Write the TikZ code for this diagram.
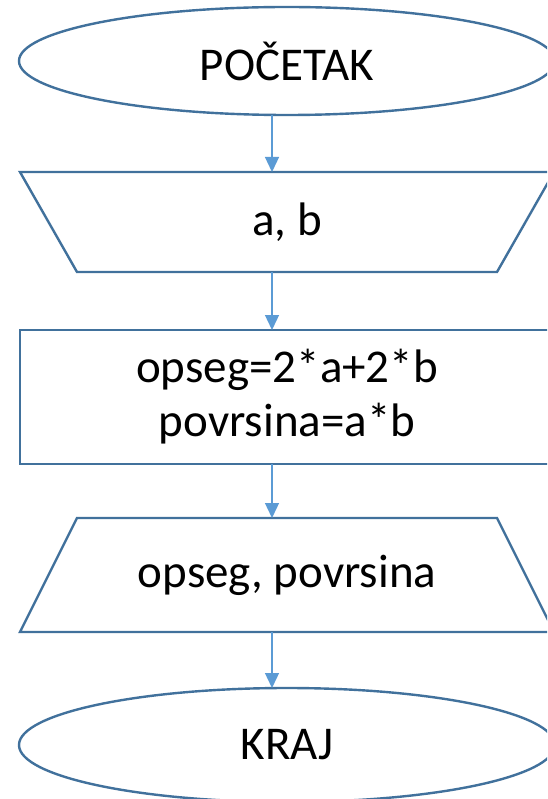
\documentclass[tikz,border=0pt]{standalone}
\usepackage{fontspec}
\setmainfont{Carlito}
\usetikzlibrary{shapes.geometric,arrows.meta}
\definecolor{outl}{HTML}{41719C}
\definecolor{arrc}{HTML}{5B9BD5}
\tikzset{
  txt/.style={font=\fontsize{47}{54}\selectfont, align=center, inner sep=0pt, outer sep=0pt},
  term/.style={txt, ellipse, draw=outl, line width=2.4pt, minimum width=536pt},
  boxshape/.style={txt, rectangle, minimum width=534pt},
  outline/.style={draw=outl, line width=2.4pt, line join=miter},
  arr/.style={draw=arrc, line width=1.3pt, -{Triangle[length=15pt,width=14pt]}}
}
\begin{document}
\begin{tikzpicture}[x=1pt,y=-1pt]
\useasboundingbox (0,0) rectangle (547,799);
\clip (0,0) rectangle (547,799);
\fill[white] (0,0) rectangle (547,799);
\coordinate (ax) at (272,0);
% start
\node[term, minimum height=108pt] (start) at (287,61) {POČETAK};
% input
\node[boxshape, minimum height=100pt] (in1) at (287,222) {a, b};
\draw[outline] (in1.north west) -- (in1.north east) -- ([xshift=-57pt]in1.south east) -- ([xshift=57pt]in1.south west) -- cycle;
% process
\node[boxshape, minimum height=134pt] (proc) at (287,397) {opseg=2*a+2*b\\povrsina=a*b};
\draw[outline] (proc.north west) rectangle (proc.south east);
% output
\node[boxshape, minimum height=114pt] (out1) at (287,575) {opseg, povrsina};
\draw[outline] ([xshift=57pt]out1.north west) -- ([xshift=-57pt]out1.north east) -- (out1.south east) -- (out1.south west) -- cycle;
% end
\node[term, minimum height=114pt] (stop) at (287,745) {KRAJ};
% arrows
\draw[arr] (start.south -| ax) -- (in1.north -| ax);
\draw[arr] (in1.south -| ax) -- (proc.north -| ax);
\draw[arr] (proc.south -| ax) -- (out1.north -| ax);
\draw[arr] (out1.south -| ax) -- (stop.north -| ax);
\end{tikzpicture}
\end{document}
